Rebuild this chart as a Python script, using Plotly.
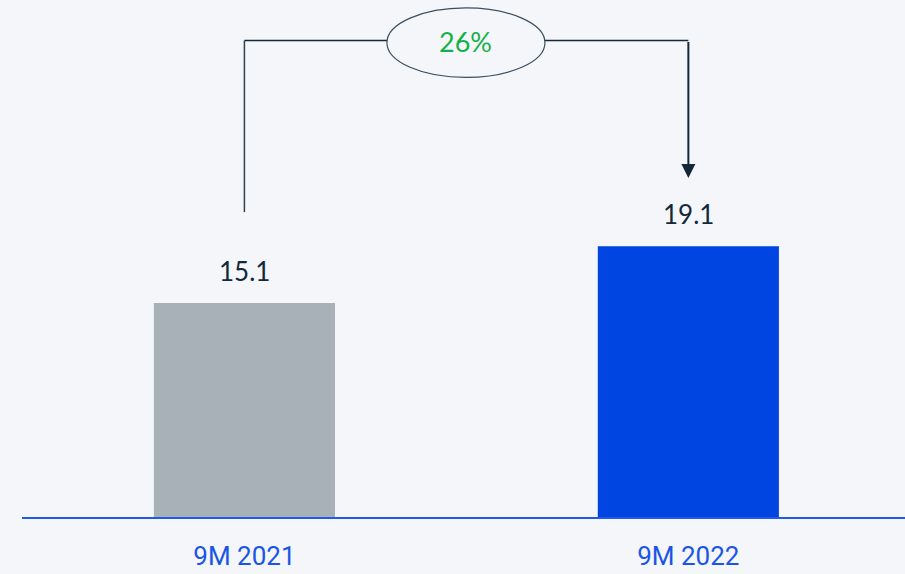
import plotly.graph_objects as go

categories = ["9M 2021", "9M 2022"]
values = [15.1, 19.1]
growth_label = "26%"

bar_colors = ["#a8b1b7", "#0044e2"]
bg = "#f4f6f9"
dark = "#13293a"
blue_txt = "#1a55e6"

x_pos = [0, 1]

fig = go.Figure()
fig.add_trace(go.Bar(x=x_pos, y=values, marker=dict(color=bar_colors, line_width=0),
                     width=0.408, hoverinfo="skip"))

# value labels
for xp, v in zip(x_pos, values):
    fig.add_annotation(x=xp, y=v, text=f"{v:.1f}", showarrow=False, yanchor="bottom",
                       yshift=14, font=dict(family="Lato", size=26, color=dark))

# bracket
top_y = 33.6
left_start = values[0] + 6.4
tip_y = values[1] + 4.8
fig.add_shape(type="line", x0=0, x1=0, y0=left_start, y1=top_y, line=dict(color="#2e4252", width=1.5))
fig.add_shape(type="line", x0=0, x1=1, y0=top_y, y1=top_y, line=dict(color=dark, width=1.5))
fig.add_annotation(x=1, y=tip_y, ax=1, ay=top_y, axref="x", ayref="y", xref="x", yref="y",
                   showarrow=True, arrowhead=2, arrowsize=1.4, arrowwidth=2, arrowcolor=dark, text="")
# ellipse with growth label
fig.add_shape(type="circle", x0=0.321, x1=0.677, y0=31.0, y1=35.9, line=dict(color="#3b4f60", width=1.2),
              fillcolor=bg, layer="above")
fig.add_annotation(x=0.499, y=33.5, text=growth_label, showarrow=False,
                   font=dict(family="Lato", size=27, color="#14b04b"))

fig.update_layout(
    width=905, height=574,
    margin=dict(l=22, r=0, t=0, b=57),
    paper_bgcolor=bg, plot_bgcolor=bg,
    showlegend=False,
    xaxis=dict(range=[-0.501, 1.488], tickvals=x_pos, ticktext=categories, showgrid=False,
               zeroline=False, showline=True, linecolor="#1f5ae8", linewidth=2,
               ticks="outside", ticklen=15, tickcolor="rgba(0,0,0,0)", automargin=False,
               tickfont=dict(family="Roboto", size=26, color=blue_txt)),
    yaxis=dict(range=[0, 36.46], visible=False, showgrid=False, zeroline=False, automargin=False),
)

fig.write_html("out.html", config={"displayModeBar": False},
               post_script="document.body.style.margin='0';document.body.style.overflow='hidden';")
